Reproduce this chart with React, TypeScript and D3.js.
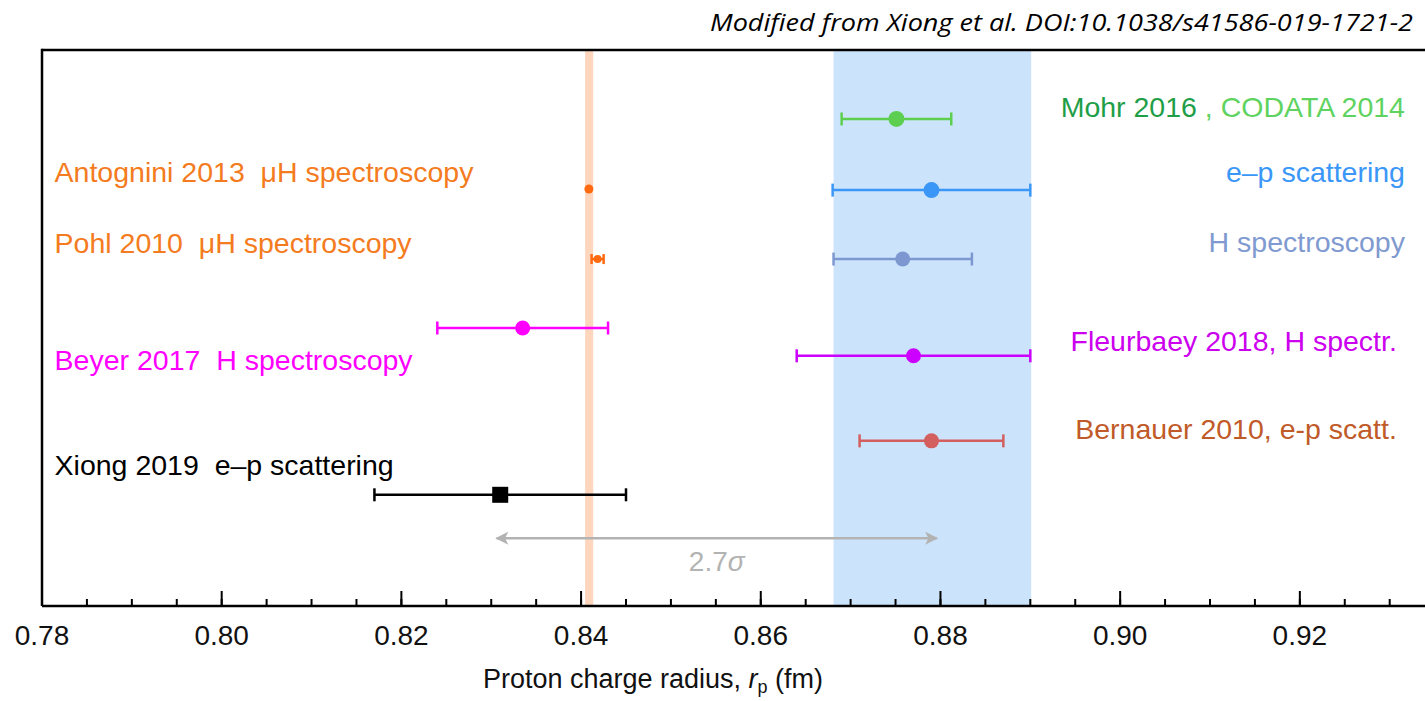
import React from "react";
import * as d3 from "d3";

// ---------- data ----------
const names = ["Mohr 2016", "e–p scattering", "H spectroscopy", "Antognini 2013", "Pohl 2010", "Beyer 2017", "Fleurbaey 2018", "Bernauer 2010", "Xiong 2019"];
const values = [0.8751, 0.879, 0.8758, 0.84087, 0.84184, 0.8335, 0.877, 0.879, 0.831];
const errors = [0.0061, 0.011, 0.0077, 0.0, 0.00067, 0.0095, 0.013, 0.008, 0.014];
const rows = [8.76, 7.48, 6.24, 7.5, 6.24, 5.0, 4.5, 2.97, 2.0];
const markerColors = ["#5ccf50", "#3a96f7", "#7d98d0", "#ff6a10", "#ff6a10", "#ff00ff", "#cc00ff", "#d35f5f", "#000000"];
const markerShapes = ["circle", "circle", "circle", "circle", "circle", "circle", "circle", "circle", "square"];
const markerSizes = [8, 8, 7.5, 4.5, 4, 7.5, 7.5, 7.5, 8];

// text labels: [text parts with colors], x (fm), row, anchor
const labelTexts = [
  [["Mohr 2016", "#1f9e48"], [" , CODATA 2014", "#5fd35f"]],
  [["e–p scattering", "#3a96f7"]],
  [["H spectroscopy", "#7f9ad0"]],
  [["Antognini 2013  μH spectroscopy", "#f47b20"]],
  [["Pohl 2010  μH spectroscopy", "#f47b20"]],
  [["Beyer 2017  H spectroscopy", "#ff00ff"]],
  [["Fleurbaey 2018, H spectr.", "#cc00ee"]],
  [["Bernauer 2010, e-p scatt.", "#c05a28"]],
  [["Xiong 2019  e–p scattering", "#000000"]],
];
const labelX = [0.9317, 0.9317, 0.9317, 0.7814, 0.7814, 0.7814, 0.9308, 0.9308, 0.7814];
const labelRows = [8.79, 7.63, 6.37, 7.63, 6.35, 4.24, 4.59, 3.0, 2.36];
const labelAnchors = ["end", "end", "end", "start", "start", "start", "end", "end", "start"];

const muonBand = [0.84045, 0.84135];
const codataBand = [0.8681, 0.8901];
const arrowFrom = 0.8306;
const arrowTo = 0.8796;
const arrowRow = 1.22;
const arrowLabel = "2.7";

const xDomain = [0.78, 0.93393];
const majorTicks = [0.78, 0.8, 0.82, 0.84, 0.86, 0.88, 0.9, 0.92];
const tickLabels = ["0.78", "0.80", "0.82", "0.84", "0.86", "0.88", "0.90", "0.92"];
const minorTicks = d3.range(0, 31).map((i) => 0.78 + i * 0.005).filter((v) => v <= 0.9335);

const caption = "Modified from Xiong et al. DOI:10.1038/s41586-019-1721-2";

// ---------- layout ----------
const W = 1425;
const H = 701;
const left = 42;
const top = 50;
const bottom = 606;
const font = "'Liberation Sans', Arial, Helvetica, sans-serif";

export default function App() {
  const x = d3.scaleLinear().domain(xDomain).range([left, W]);
  const y = d3.scaleLinear().domain([0, 10]).range([bottom, top]);

  return (
    <svg width={W} height={H} style={{ position: "absolute", left: 0, top: 0, background: "#fff" }}>
      <defs>
        <marker id="ah" viewBox="0 0 10 10" refX="9" refY="5" markerWidth="15" markerHeight="13" orient="auto-start-reverse" markerUnits="userSpaceOnUse">
          <path d="M0,0 L10,5 L0,10 L2.5,5 Z" fill="#b3b3b3" />
        </marker>
      </defs>
      {/* caption */}
      <text x={1413} y={31} textAnchor="end" fontFamily="'Liberation Sans Narrow', 'Open Sans', sans-serif" fontStyle="italic" fontSize={23} textLength={703} lengthAdjust="spacingAndGlyphs" fill="#000">
        {caption}
      </text>

      {/* bands */}
      <rect x={x(codataBand[0])} y={top} width={x(codataBand[1]) - x(codataBand[0])} height={bottom - top} fill="#cce4fb" />
      <rect x={x(muonBand[0])} y={top} width={x(muonBand[1]) - x(muonBand[0])} height={bottom - top} fill="#fdd6bd" />

      {/* frame */}
      <line x1={left} x2={W} y1={top} y2={top} stroke="#000" strokeWidth={2.5} />
      <line x1={left} x2={left} y1={top - 1.2} y2={bottom} stroke="#000" strokeWidth={2.5} />
      <line x1={left} x2={W} y1={bottom} y2={bottom} stroke="#000" strokeWidth={2.5} />

      {/* ticks */}
      {minorTicks.map((t, i) => (
        <line key={"mi" + i} x1={x(t)} x2={x(t)} y1={bottom} y2={bottom - 7} stroke="#000" strokeWidth={2} />
      ))}
      {majorTicks.map((t, i) => (
        <g key={"ma" + i}>
          <line x1={x(t)} x2={x(t)} y1={bottom} y2={bottom - 15} stroke="#000" strokeWidth={2} />
          <text x={x(t)} y={645} textAnchor="middle" fontFamily={font} fontSize={28} fill="#111">
            {tickLabels[i]}
          </text>
        </g>
      ))}

      {/* axis title */}
      <text x={653} y={688} textAnchor="middle" fontFamily={font} fontSize={27} fill="#111">
        Proton charge radius, <tspan fontStyle="italic">r</tspan>
        <tspan fontSize={18} dy={5}>p</tspan>
        <tspan dy={-5}> (fm)</tspan>
      </text>

      {/* arrow */}
      <line x1={x(arrowFrom)} x2={x(arrowTo)} y1={y(arrowRow)} y2={y(arrowRow)} stroke="#b3b3b3" strokeWidth={2.5} markerStart="url(#ah)" markerEnd="url(#ah)" />
      <text x={(x(arrowFrom) + x(arrowTo)) / 2} y={y(arrowRow) + 33} textAnchor="middle" fontFamily={font} fontSize={28} fill="#b3b3b3">
        {arrowLabel}<tspan fontStyle="italic">σ</tspan>
      </text>

      {/* error bars and markers */}
      {values.map((v, i) => {
        const cy = y(rows[i]);
        const c = markerColors[i];
        const e = errors[i];
        const cap = i === 4 ? 5 : 6.5;
        return (
          <g key={"p" + i}>
            {e > 0 && (
              <g stroke={c} strokeWidth={2.5}>
                <line x1={x(v - e)} x2={x(v + e)} y1={cy} y2={cy} />
                <line x1={x(v - e)} x2={x(v - e)} y1={cy - cap} y2={cy + cap} />
                <line x1={x(v + e)} x2={x(v + e)} y1={cy - cap} y2={cy + cap} />
              </g>
            )}
            {markerShapes[i] === "square" ? (
              <rect x={x(v) - markerSizes[i]} y={cy - markerSizes[i]} width={markerSizes[i] * 2} height={markerSizes[i] * 2} fill={c} />
            ) : (
              <circle cx={x(v)} cy={cy} r={markerSizes[i]} fill={c} />
            )}
          </g>
        );
      })}

      {/* labels */}
      {labelTexts.map((parts, i) => (
        <text key={"l" + i} x={x(labelX[i])} y={y(labelRows[i])} textAnchor={labelAnchors[i]} fontFamily={font} fontSize={28.5} style={{ whiteSpace: "pre" }}>
          {parts.map((p, j) => (
            <tspan key={j} fill={p[1]}>
              {p[0]}
            </tspan>
          ))}
        </text>
      ))}
    </svg>
  );
}
